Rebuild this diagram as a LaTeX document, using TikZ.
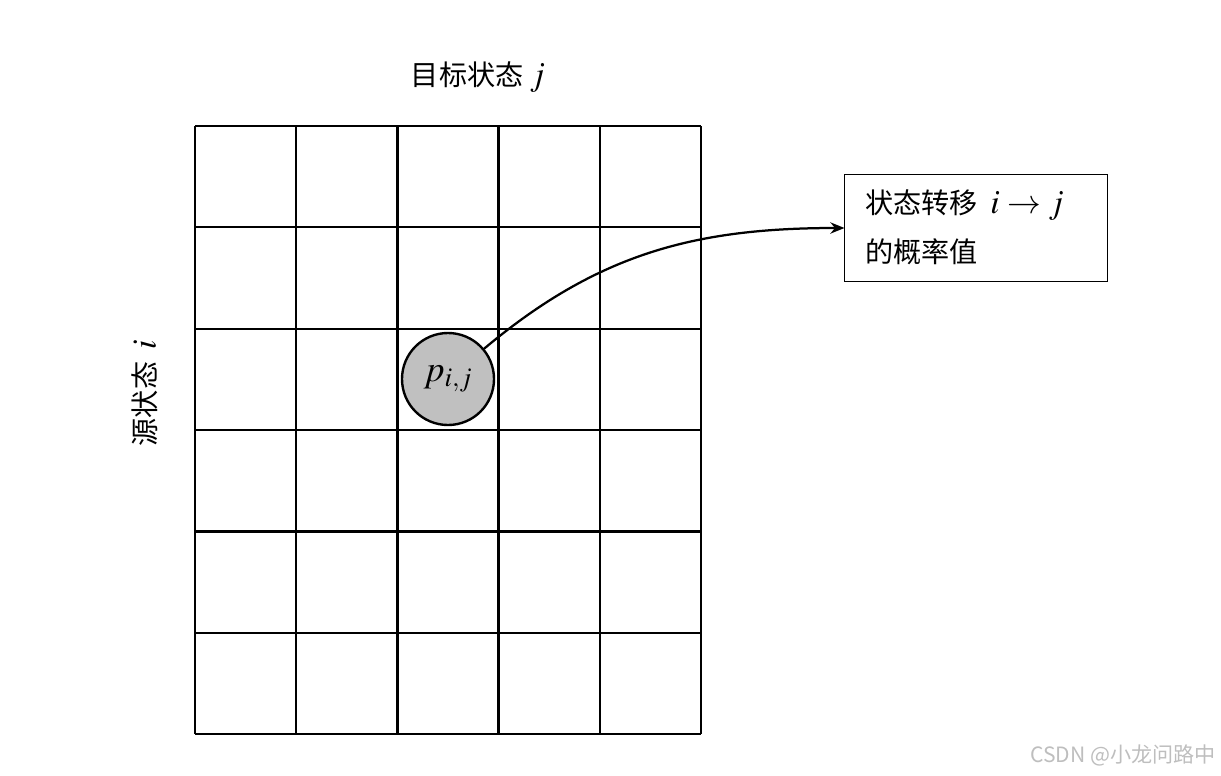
\documentclass[tikz,border=0pt]{standalone}
\usepackage{amsmath, amssymb}
\usepackage{mathptmx}
\usepackage{fontspec}
\usepackage{tikz}
\usetikzlibrary{arrows.meta}
\newfontfamily\cjk{Noto Sans CJK SC}
\definecolor{cellGray}{RGB}{192, 192, 192}
\definecolor{markGray}{RGB}{190, 190, 190}
\newcommand{\bigmath}[1]{{\fontsize{24}{28}\selectfont$#1$}}
\tikzset{
  gridline/.style={line width=1.7pt},
  label/.style={font=\cjk\fontsize{20}{24}\selectfont, inner sep=0pt}
}

\begin{document}
\begin{tikzpicture}[x=0.025cm, y=-0.025cm]
        \useasboundingbox (0,0) rectangle (1221,775);
        % grid
        \foreach \x in {195,296.2,397.4,498.6,599.8,701}
          \draw[gridline] (\x,126) -- (\x,734);
        \foreach \y in {126,227.3,328.7,430,531.3,632.7,734}
          \draw[gridline] (195,\y) -- (701,\y);
        \node[label] (target) at (478,77) {目标状态\ \bigmath{j}};
        \node[label, rotate=90] (source) at (145,393) {源状态\ \ \bigmath{i}};
        \node[draw, circle, line width=1.7pt, fill=cellGray, minimum size=2.3cm, inner sep=0pt,
              font=\fontsize{26}{30}\selectfont] (pij) at (448,379) {$p_{i,j}$};
        \node[draw, line width=0.7pt, minimum width=6.55cm, minimum height=2.65cm] (box) at (976,228) {};
        \node[label, align=left, anchor=north west] (boxtext) at (865,189)
          {状态转移\ \ \bigmath{i \rightarrow j}\\[11pt]的概率值};
        \draw[line width=1.6pt, -{Stealth[length=10pt, width=8pt]}] (pij.40) to[out=40, in=180] (box.west);
        \node[font=\cjk\fontsize{15}{18}\selectfont, text=markGray, anchor=east, inner sep=0pt] (mark) at (1216,755) {CSDN @小龙问路中};
      \end{tikzpicture}
\end{document}
